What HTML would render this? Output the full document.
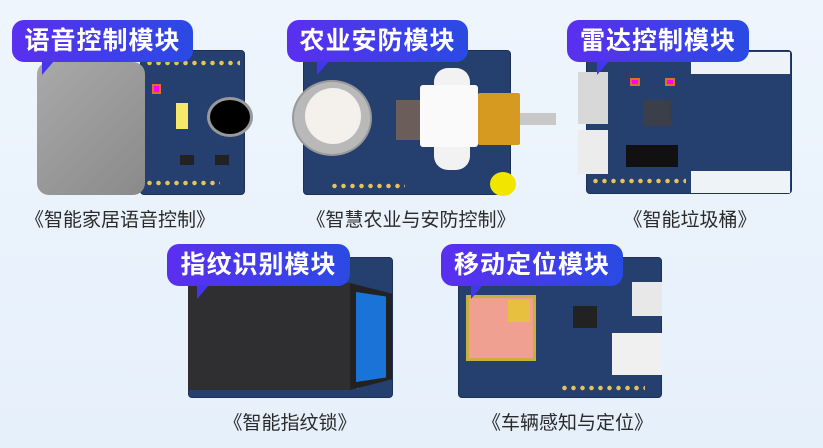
<!DOCTYPE html>
<html><head><meta charset="utf-8"><style>
*{margin:0;padding:0;box-sizing:border-box}
body{width:823px;height:448px;overflow:hidden;background:linear-gradient(180deg,#eef5fd,#e6f0fb);position:relative;font-family:"Liberation Sans","Noto Sans CJK SC",sans-serif}
.a{position:absolute}
.board{position:absolute;background:#253f6e;border-radius:4px;border:1px solid #1c3158}
.lab{position:absolute;height:42px;border-radius:12px;background:linear-gradient(90deg,#5b2ff0,#2a4ae4);color:#fff;font-size:25px;font-weight:bold;line-height:42px;text-align:center;letter-spacing:1px;z-index:5}
.lab:after{content:"";position:absolute;left:30px;bottom:-13px;border-top:14px solid #4436ec;border-right:12px solid transparent}
.cap{position:absolute;font-size:19px;color:#2a2a2a;text-align:center;white-space:nowrap}
.dots{position:absolute;height:6px;background:radial-gradient(circle,#e8c35a 2px,transparent 2.5px);background-size:9px 6px}
</style></head><body>
<!-- card1 -->
<div class="board" style="left:140px;top:50px;width:105px;height:145px"></div>
<div class="dots" style="left:145px;top:60px;width:95px"></div>
<div class="dots" style="left:145px;top:180px;width:75px"></div>
<div class="a" style="left:37px;top:62px;width:108px;height:133px;border-radius:12px;background:linear-gradient(135deg,#a9a9a9,#8a8a8a)"></div>
<div class="a" style="left:152px;top:84px;width:9px;height:10px;background:#f0f;border:2px solid #e07020"></div>
<div class="a" style="left:176px;top:103px;width:12px;height:26px;background:#f5e86a"></div>
<div class="a" style="left:207px;top:97px;width:46px;height:40px;border-radius:50%;background:#000;border:3px solid #999"></div>
<div class="a" style="left:180px;top:155px;width:14px;height:10px;background:#222"></div>
<div class="a" style="left:215px;top:155px;width:14px;height:10px;background:#222"></div>
<div class="lab" style="left:12px;top:20px;width:181px">语音控制模块</div>
<div class="cap" style="left:10px;top:205px;width:220px">《智能家居语音控制》</div>
<!-- card2 -->
<div class="board" style="left:303px;top:50px;width:208px;height:145px"></div>
<div class="dots" style="left:330px;top:183px;width:75px"></div>
<div class="a" style="left:292px;top:80px;width:80px;height:76px;border-radius:50%;background:#b9b9b9;border:2px solid #999"></div>
<div class="a" style="left:305px;top:88px;width:56px;height:56px;border-radius:50%;background:#f4f1ec"></div>
<div class="a" style="left:396px;top:100px;width:28px;height:40px;background:#6a5d5a"></div>
<div class="a" style="left:434px;top:68px;width:36px;height:102px;border-radius:14px;background:#f2f2f2"></div>
<div class="a" style="left:420px;top:85px;width:58px;height:62px;background:#fafafa;border-radius:3px"></div>
<div class="a" style="left:478px;top:93px;width:42px;height:52px;background:#d69a20;border-radius:2px"></div>
<div class="a" style="left:520px;top:113px;width:36px;height:12px;background:#c8c8c8"></div>
<div class="a" style="left:490px;top:172px;width:26px;height:24px;border-radius:50%;background:#f2e600"></div>
<div class="lab" style="left:287px;top:20px;width:181px">农业安防模块</div>
<div class="cap" style="left:290px;top:205px;width:242px">《智慧农业与安防控制》</div>
<!-- card3 -->
<div class="board" style="left:586px;top:50px;width:206px;height:144px"></div>
<div class="a" style="left:691px;top:52px;width:99px;height:22px;background:#eef3f8"></div>
<div class="a" style="left:691px;top:171px;width:99px;height:22px;background:#eef3f8"></div>
<div class="a" style="left:578px;top:72px;width:30px;height:52px;background:#d8d8d8"></div>
<div class="a" style="left:578px;top:130px;width:30px;height:44px;background:#ececec"></div>
<div class="a" style="left:630px;top:78px;width:10px;height:8px;background:#f0f;border:2px solid #e07020"></div>
<div class="a" style="left:665px;top:78px;width:10px;height:8px;background:#f0f;border:2px solid #e07020"></div>
<div class="a" style="left:643px;top:100px;width:28px;height:26px;background:#3a3f4a"></div>
<div class="a" style="left:626px;top:145px;width:52px;height:22px;background:#111"></div>
<div class="dots" style="left:591px;top:178px;width:95px"></div>
<div class="lab" style="left:567px;top:20px;width:182px">雷达控制模块</div>
<div class="cap" style="left:590px;top:205px;width:200px">《智能垃圾桶》</div>
<!-- card4 -->
<div class="board" style="left:188px;top:257px;width:205px;height:141px"></div>
<div class="dots" style="left:290px;top:383px;width:70px"></div>
<div class="a" style="left:188px;top:283px;width:162px;height:107px;background:#2f2f31"></div>
<div class="a" style="left:350px;top:283px;width:42px;height:107px;background:#222;clip-path:polygon(0 0,100% 10%,100% 90%,0 100%)"></div>
<div class="a" style="left:356px;top:292px;width:30px;height:90px;background:#1a73d6;clip-path:polygon(0 0,100% 5%,100% 95%,0 100%)"></div>
<div class="lab" style="left:167px;top:244px;width:183px">指纹识别模块</div>
<div class="cap" style="left:198px;top:408px;width:184px">《智能指纹锁》</div>
<!-- card5 -->
<div class="board" style="left:458px;top:257px;width:204px;height:141px"></div>
<div class="a" style="left:466px;top:295px;width:70px;height:66px;background:#f0a090;border:3px solid #c8b040"></div>
<div class="a" style="left:508px;top:300px;width:22px;height:22px;background:#e8c040"></div>
<div class="a" style="left:573px;top:306px;width:24px;height:22px;background:#222"></div>
<div class="a" style="left:632px;top:282px;width:30px;height:34px;background:#e8e8e8"></div>
<div class="a" style="left:612px;top:333px;width:50px;height:42px;background:#f0f0f0"></div>
<div class="dots" style="left:560px;top:385px;width:85px"></div>
<div class="lab" style="left:441px;top:244px;width:182px">移动定位模块</div>
<div class="cap" style="left:465px;top:408px;width:205px">《车辆感知与定位》</div>
</body></html>
